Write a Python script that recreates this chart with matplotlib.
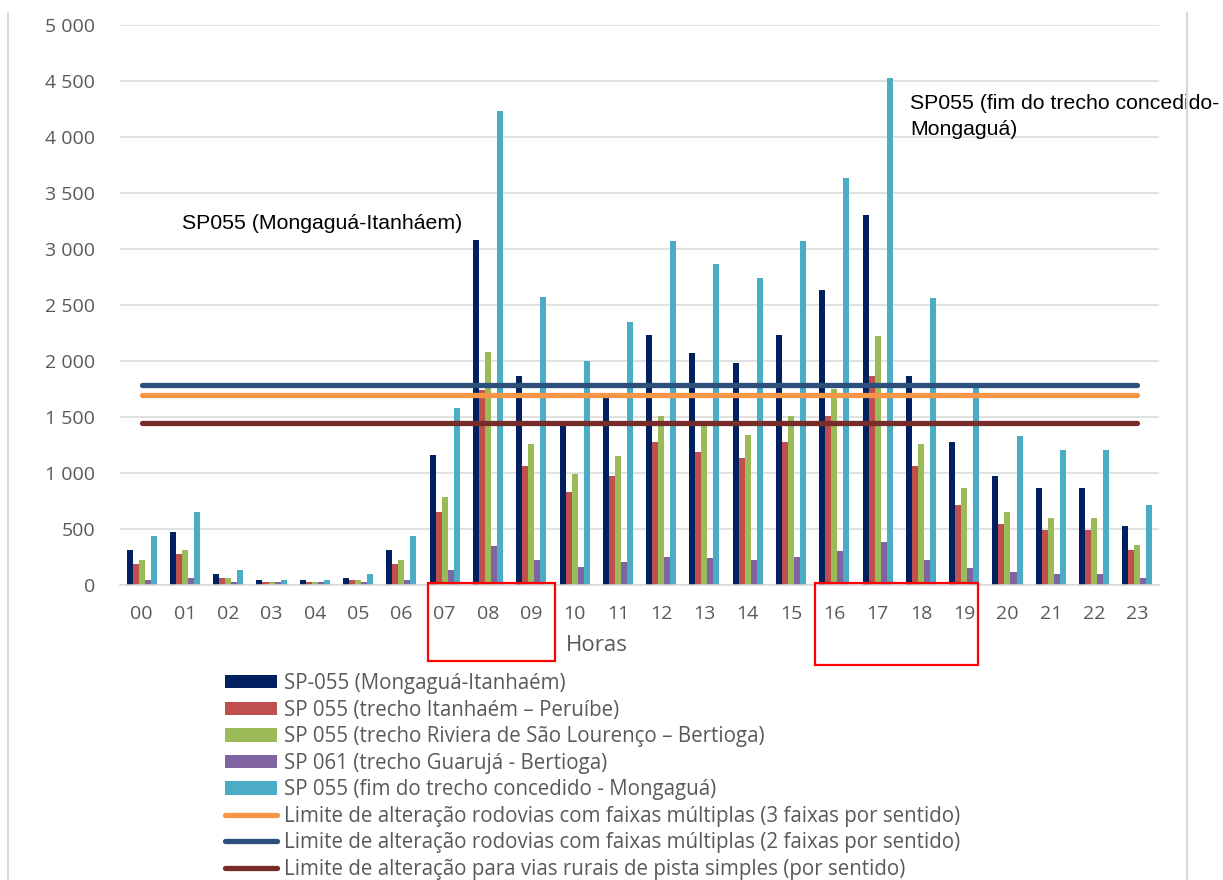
import numpy as np
import matplotlib
matplotlib.use("Agg")
import matplotlib.pyplot as plt
from matplotlib.patches import Rectangle
from matplotlib.lines import Line2D
from matplotlib.transforms import blended_transform_factory

# volumes horários por trecho
horas = ['%02d' % h for h in range(24)]
sp055_mong_itan = [310, 470, 95, 42, 42, 60, 310, 1152, 3080, 1866, 1424, 1668,
                   2232, 2071, 1982, 2232, 2627, 3295, 1864, 1272, 966, 860, 860, 518]
sp055_itan_peru = [185, 274, 60, 24, 24, 42, 185, 649, 1737, 1060, 823, 967,
                   1275, 1186, 1127, 1275, 1504, 1864, 1058, 714, 536, 485, 485, 306]
sp055_riviera = [215, 310, 60, 24, 24, 42, 215, 777, 2079, 1256, 991, 1146,
                 1504, 1418, 1339, 1504, 1750, 2219, 1254, 861, 645, 590, 590, 357]
sp061_guaruja = [42, 60, 24, 24, 24, 24, 42, 131, 348, 220, 160, 199,
                 250, 235, 217, 250, 301, 379, 215, 147, 110, 91, 91, 55]
sp055_fim_mong = [437, 649, 131, 42, 42, 95, 437, 1579, 4228, 2564, 2000, 2340,
                  3071, 2860, 2735, 3071, 3630, 4526, 2558, 1757, 1323, 1199, 1199, 714]

# limites de alteração
lim_3faixas = 1690
lim_2faixas = 1785
lim_simples = 1440

series = [
    (sp055_mong_itan, '#002060', 'SP-055 (Mongaguá-Itanhaém)'),
    (sp055_itan_peru, '#c0504d', 'SP 055 (trecho Itanhaém – Peruíbe)'),
    (sp055_riviera, '#9bbb59', 'SP 055 (trecho Riviera de São Lourenço – Bertioga)'),
    (sp061_guaruja, '#8064a2', 'SP 061 (trecho Guarujá - Bertioga)'),
    (sp055_fim_mong, '#4bacc6', 'SP 055 (fim do trecho concedido - Mongaguá)'),
]
limites = [
    (lim_3faixas, '#f79646', 'Limite de alteração rodovias com faixas múltiplas (3 faixas por sentido)'),
    (lim_2faixas, '#2d4f7c', 'Limite de alteração rodovias com faixas múltiplas (2 faixas por sentido)'),
    (lim_simples, '#772c2a', 'Limite de alteração para vias rurais de pista simples (por sentido)'),
]

txt_font = ['Open Sans', 'DejaVu Sans']
gray = '#595959'

fig = plt.figure(figsize=(12.23, 8.80), dpi=100)
ax = fig.add_axes([120/1223, 295.5/880, 1039/1223, 560/880])

x = np.arange(len(horas))
w = 0.139
handles = []
for i, (vals, col, lab) in enumerate(series):
    b = ax.bar(x + (i - 2) * w, vals, w, color=col, label=lab, zorder=2)
    handles.append(b)
for val, col, lab in limites:
    l, = ax.plot([x[0], x[-1]], [val, val], color=col, lw=3.8,
                 solid_capstyle='round', label=lab, zorder=3)
    handles.append(l)

ax.set_xlim(-0.5, 23.5)
ax.set_ylim(0, 5000)
ax.set_yticks(np.arange(0, 5001, 500))
ax.set_yticklabels(['{:,}'.format(v).replace(',', ' ') for v in range(0, 5001, 500)])
ax.set_xticks(x)
ax.set_xticklabels(horas)
ax.grid(axis='y', color='#d9d9d9', lw=1.1, zorder=0)
ax.set_axisbelow(True)
for s in ['top', 'right', 'left']:
    ax.spines[s].set_visible(False)
ax.spines['bottom'].set_color('#d9d9d9')
ax.spines['bottom'].set_linewidth(1.1)
ax.tick_params(length=0, colors=gray, labelsize=14)
ax.tick_params(axis='y', pad=18)
ax.tick_params(axis='x', pad=15)
for t in ax.get_xticklabels() + ax.get_yticklabels():
    t.set_family(txt_font)
ax.set_xlabel('Horas', color=gray, fontsize=16, family=txt_font)
ax.xaxis.set_label_coords(0.459, -0.09)

# rótulos dos trechos
ax.text(0.06, 0.645, 'SP055 (Mongaguá-Itanháem)', transform=ax.transAxes,
        fontsize=15.3, family='Liberation Sans', va='center', ha='left')
ax.text(0.7605, 0.876, 'SP055 (fim do trecho concedido-\nMongaguá)', transform=ax.transAxes,
        fontsize=15.3, family='Liberation Sans', va='top', ha='left', linespacing=1.5)

# destaques dos horários de pico
tr = blended_transform_factory(ax.transData, ax.transAxes)
for x0, x1, y1 in [(6.61, 9.55, -0.137), (15.56, 19.32, -0.144)]:
    ax.add_patch(Rectangle((x0, y1), x1 - x0, 0.003 - y1, transform=tr, fill=False,
                           ec='#ff0000', lw=1.6, clip_on=False, zorder=5))

# bordas laterais
fig.add_artist(Line2D([8/1223, 8/1223], [0, 1 - 13/880], color='#d9d9d9', lw=1.5))
fig.add_artist(Line2D([1187/1223, 1187/1223], [0, 1 - 13/880], color='#d9d9d9', lw=1.5))

leg = fig.legend(handles=handles, loc='upper left', bbox_to_anchor=(225/1223, 1 - 673/880),
                 frameon=False, borderpad=0, handlelength=2.55, handleheight=0.63,
                 handletextpad=0.3, labelspacing=0.27, borderaxespad=0,
                 prop={'family': txt_font, 'size': 14.8})
for t in leg.get_texts():
    t.set_color(gray)

fig.savefig('out.png', dpi=100)
